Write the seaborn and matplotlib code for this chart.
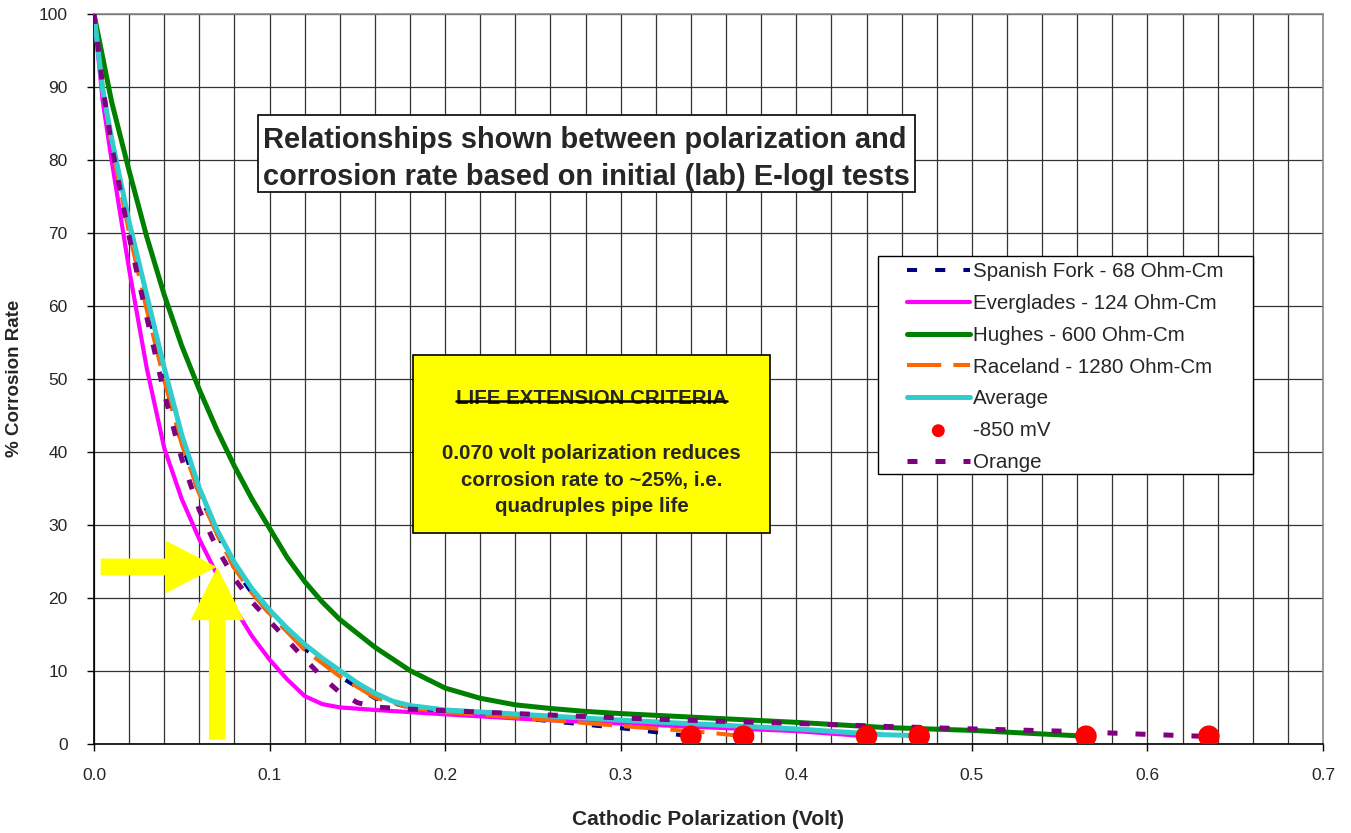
import numpy as np
import pandas as pd
import matplotlib
matplotlib.use("Agg")
import matplotlib.pyplot as plt
import matplotlib.patches as mpatches
from matplotlib.lines import Line2D
from matplotlib.collections import PathCollection
from matplotlib.legend_handler import HandlerLine2D, HandlerPathCollection
import seaborn as sns

# ---- data ----
x_spanish = [0, 0.005, 0.01, 0.02, 0.03, 0.04, 0.05, 0.06, 0.07, 0.08, 0.09, 0.10, 0.12, 0.14, 0.16, 0.18, 0.20, 0.25, 0.30, 0.34]
y_spanish = [100, 90, 82.5, 70.5, 60, 50, 41, 34.2, 28.8, 24, 20.6, 17.8, 13, 9.2, 6.2, 4.9, 4.3, 3.3, 2.1, 1.0]

x_everglades = [0, 0.005, 0.01, 0.02, 0.03, 0.04, 0.05, 0.06, 0.07, 0.08, 0.09, 0.10, 0.11, 0.12, 0.13, 0.14, 0.16, 0.20, 0.25, 0.30, 0.35, 0.40, 0.44]
y_everglades = [100, 88, 80, 65, 51.5, 40.5, 33.5, 28, 23.2, 18.6, 14.7, 11.5, 8.8, 6.5, 5.4, 4.95, 4.6, 4.0, 3.3, 2.75, 2.2, 1.7, 1.0]

x_hughes = [0, 0.01, 0.02, 0.03, 0.04, 0.05, 0.06, 0.07, 0.08, 0.09, 0.10, 0.11, 0.12, 0.13, 0.14, 0.16, 0.18, 0.20, 0.22, 0.24, 0.26, 0.28, 0.30, 0.35, 0.40, 0.45, 0.50, 0.565]
y_hughes = [100, 88, 78.5, 69.5, 61.5, 54.5, 48.5, 43, 38, 33.5, 29.5, 25.5, 22.2, 19.4, 17, 13.2, 10, 7.6, 6.2, 5.3, 4.8, 4.4, 4.1, 3.5, 2.9, 2.2, 1.8, 1.0]

x_raceland = [0, 0.005, 0.01, 0.02, 0.03, 0.04, 0.05, 0.06, 0.07, 0.08, 0.09, 0.10, 0.12, 0.14, 0.16, 0.18, 0.20, 0.25, 0.30, 0.35, 0.37]
y_raceland = [100, 90, 82, 70, 59.5, 49.8, 41, 34.2, 28.7, 24, 20.6, 17.8, 12.8, 9.2, 6.3, 4.9, 4.3, 3.4, 2.4, 1.5, 1.0]

x_average = [0, 0.005, 0.01, 0.02, 0.03, 0.04, 0.05, 0.06, 0.07, 0.08, 0.09, 0.10, 0.11, 0.12, 0.13, 0.14, 0.15, 0.16, 0.17, 0.18, 0.20, 0.25, 0.30, 0.35, 0.40, 0.45, 0.465]
y_average = [100, 89.5, 83, 71.5, 61.5, 51.5, 42.3, 35, 29.3, 24.8, 21.2, 18.3, 15.8, 13.6, 11.7, 10, 8.3, 6.9, 5.8, 5.2, 4.6, 3.9, 3.2, 2.6, 2.0, 1.2, 1.1]

x_orange = [0, 0.005, 0.01, 0.02, 0.03, 0.04, 0.05, 0.06, 0.07, 0.08, 0.09, 0.10, 0.11, 0.12, 0.13, 0.14, 0.15, 0.16, 0.18, 0.20, 0.25, 0.30, 0.35, 0.40, 0.45, 0.50, 0.55, 0.60, 0.63]
y_orange = [100, 90, 82, 69.5, 58.5, 48, 39, 32, 26.8, 22.6, 19.4, 16.8, 14.2, 11.6, 9.1, 7.0, 5.6, 5.0, 4.7, 4.5, 4.0, 3.5, 3.1, 2.75, 2.35, 2.0, 1.7, 1.25, 1.0]

x_850mv = [0.34, 0.37, 0.44, 0.47, 0.565, 0.635]
y_850mv = [1, 1, 1, 1, 1, 1]

sns.set_style("white")
plt.rcParams['font.family'] = ['Liberation Sans', 'DejaVu Sans']

fig = plt.figure(figsize=(13.51, 8.33), dpi=100)
ax = fig.add_axes([94 / 1351, 1 - 743.5 / 833, 1229 / 1351, 729.5 / 833])

# curves
sns.lineplot(x=x_spanish, y=y_spanish, ax=ax, color='#000080', lw=2.9,
             linestyle=(0, (2.5, 4.5)), label='Spanish Fork - 68 Ohm-Cm', zorder=3)
sns.lineplot(x=x_everglades, y=y_everglades, ax=ax, color='#FF00FF', lw=3.0,
             label='Everglades - 124 Ohm-Cm', zorder=3, solid_joinstyle='round')
sns.lineplot(x=x_hughes, y=y_hughes, ax=ax, color='#008000', lw=3.6,
             label='Hughes - 600 Ohm-Cm', zorder=3, solid_joinstyle='round')
sns.lineplot(x=x_raceland, y=y_raceland, ax=ax, color='#FF6600', lw=2.9,
             linestyle=(0, (8.5, 3)), label='Raceland - 1280 Ohm-Cm', zorder=4)
sns.lineplot(x=x_average, y=y_average, ax=ax, color='#33CCCC', lw=3.6,
             label='Average', zorder=5, solid_joinstyle='round')
sns.scatterplot(x=x_850mv, y=y_850mv, ax=ax, color='red', s=240, edgecolor='none',
                label='-850 mV', zorder=7)
sns.lineplot(x=x_orange, y=y_orange, ax=ax, color='#800080', lw=3.6,
             linestyle=(0, (2, 3.6)), label='Orange', zorder=6)

# axes setup
ax.set_xlim(0, 0.7)
ax.set_ylim(0, 100)
ax.set_xticks(np.arange(0, 0.71, 0.1))
ax.set_xticklabels([f'{v:.1f}' for v in np.arange(0, 0.71, 0.1)])
ax.set_xticks(np.arange(0, 0.701, 0.02), minor=True)
ax.set_yticks(np.arange(0, 101, 10))
ax.grid(which='both', axis='x', color='#333333', lw=0.9)
ax.grid(which='major', axis='y', color='#333333', lw=0.9)
ax.set_axisbelow(True)
ax.tick_params(axis='both', which='major', direction='out', length=5, width=1,
               color='black', labelsize=12.5, bottom=True, left=True)
ax.tick_params(axis='x', which='major', pad=13)
ax.tick_params(axis='y', which='major', pad=14)
ax.tick_params(axis='x', which='minor', length=0)
for s in ['left', 'bottom']:
    ax.spines[s].set_color('black')
    ax.spines[s].set_linewidth(1.2)
for s in ['top', 'right']:
    ax.spines[s].set_color('#888888')
    ax.spines[s].set_linewidth(1.2)

ax.set_xlabel('Cathodic Polarization (Volt)', fontsize=15, fontweight='bold', labelpad=19)
ax.set_ylabel('% Corrosion Rate', fontsize=13.5, fontweight='bold', labelpad=11)

# legend (frame drawn separately so the padding matches the original box)
handles, labels = ax.get_legend_handles_labels()
order = ['Spanish Fork - 68 Ohm-Cm', 'Everglades - 124 Ohm-Cm', 'Hughes - 600 Ohm-Cm',
         'Raceland - 1280 Ohm-Cm', 'Average', '-850 mV', 'Orange']
hmap = dict(zip(labels, handles))
ax.add_patch(mpatches.Rectangle((0.6379, 0.3694), 0.943 - 0.6379, 0.668 - 0.3694,
                                transform=ax.transAxes, fc='white', ec='black', lw=1.0,
                                zorder=9))
leg = ax.legend([hmap[k] for k in order], order, loc='upper left',
                bbox_to_anchor=(0.6379, 0.668), fontsize=14.8, frameon=False,
                handlelength=4.17, handletextpad=0.15, labelspacing=0.62,
                borderpad=0.3, borderaxespad=0, markerscale=0.6,
                handler_map={Line2D: HandlerLine2D(xpad=1.1),
                             PathCollection: HandlerPathCollection(xpad=1.1)})
leg.set_zorder(10)

# title box
ax.add_patch(mpatches.Rectangle((0.1334, 0.756), 0.668 - 0.1334, 0.8615 - 0.756,
                                transform=ax.transAxes, fc='white', ec='black', lw=1.2,
                                zorder=9))
ax.text(0.1375, 0.8015, 'Relationships shown between polarization and\ncorrosion rate based on initial (lab) E-logI tests',
        transform=ax.transAxes, ha='left', va='center', fontsize=20.9, fontweight='bold',
        linespacing=1.4, zorder=10)

# yellow criteria box
ax.add_patch(mpatches.Rectangle((0.2596, 0.2886), 0.2904, 0.244, transform=ax.transAxes,
                                fc='#FFFF00', ec='black', lw=1.2, zorder=9))
t_head = ax.text(0.405, 0.4736, 'LIFE EXTENSION CRITERIA', transform=ax.transAxes,
                 ha='center', va='center', fontsize=14.8, fontweight='bold', zorder=11)
ax.text(0.405, 0.3612, '0.070 volt polarization reduces\ncorrosion rate to ~25%, i.e.\nquadruples pipe life',
        transform=ax.transAxes, ha='center', va='center', fontsize=14.8, fontweight='bold',
        linespacing=1.5, zorder=11)

# yellow arrows pointing at 0.070 V / ~24 %
ax.add_patch(mpatches.FancyArrow(0.0038, 24.2, 0.0661, 0, width=2.3, head_width=7.3,
                                 head_length=0.0294, length_includes_head=True,
                                 fc='#FFFF00', ec='none', zorder=8))
ax.add_patch(mpatches.FancyArrow(0.0702, 0.5, 0, 23.7, width=0.0095, head_width=0.0304,
                                 head_length=7.3, length_includes_head=True,
                                 fc='#FFFF00', ec='none', zorder=8))

# strike line through the heading
fig.canvas.draw()
bb = t_head.get_window_extent()
ymid = bb.y0 + bb.height * 0.34
fig.add_artist(Line2D([bb.x0 / fig.bbox.width, bb.x1 / fig.bbox.width],
                      [ymid / fig.bbox.height, ymid / fig.bbox.height],
                      color='black', lw=1.8, zorder=12))

fig.savefig('out.png', dpi=100)
